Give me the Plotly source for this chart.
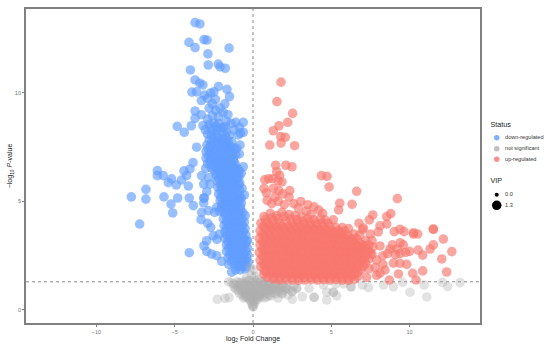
import plotly.graph_objects as go

# (log2 fold change, -log10 p-value)
down_regulated = [
(-3.7,13.24),(-3.39,13.18),(-4.09,12.33),(-3.7,12.09),(-3.13,12.46),(-2.94,12.44),(-1.53,12.07),(-2.88,11.8),(-2.86,11.29),(-2.22,11.33),
(-2.1,11.2),(-1.77,11.14),(-4.0,11.06),(-3.7,10.6),(-3.4,10.45),(-3.2,10.37),(-3.9,10.04),(-3.6,10.05),(-2.2,10.3),(-1.66,10.17),(-1.5,9.83),
(-2.7,10.0),(-2.5,10.05),(-3.1,9.9),(-2.9,9.75),(-3.3,9.65),(-2.4,9.7),(-2.6,9.5),(-1.8,9.5),(-2.1,9.3),(-2.8,9.3),(-2.4,9.2),
(-3.7,9.17),(-3.7,8.83),(-3.3,9.0),(-1.9,9.1),(-1.6,9.0),(-2.9,8.8),(-2.6,8.95),(-2.2,8.9),(-1.7,8.7),(-1.4,8.6),
(-4.84,8.46),(-4.39,8.19),(-3.94,8.49),(-3.2,8.5),(-3.05,8.3),(-2.8,8.55),(-2.5,8.6),(-2.2,8.6),(-1.9,8.4),(-1.1,8.65),(-0.62,8.65),(-0.62,8.19),(-0.87,8.41),(-1.2,8.3),(-0.94,8.07),(-0.8,8.15),
(-2.9,8.1),(-2.6,8.25),(-2.3,8.3),(-2.0,8.15),(-1.7,8.2),(-1.5,8.05),(-2.8,7.85),(-2.5,7.9),(-2.2,7.95),(-1.9,7.85),(-1.6,7.8),
(-3.6,7.5),(-2.95,7.6),(-2.7,7.55),(-2.4,7.6),(-2.1,7.6),(-1.8,7.55),(-1.5,7.55),(-0.83,7.6),(-1.05,7.45),
(-3.0,7.3),(-2.75,7.25),(-2.45,7.3),(-2.15,7.25),(-1.85,7.3),(-1.55,7.25),(-1.3,7.3),(-0.87,7.19),(-1.1,7.15),
(-3.0,7.0),(-2.7,6.95),(-2.4,7.0),(-2.1,6.95),(-1.8,7.0),(-1.5,6.95),(-1.25,7.0),
(-3.83,6.79),(-2.9,6.75),(-2.6,6.7),(-2.3,6.75),(-2.0,6.7),(-1.7,6.75),(-1.4,6.7),(-1.15,6.75),
(-6.11,6.42),(-4.41,6.41),(-4.03,6.5),(-3.02,6.53),(-2.5,6.45),(-2.2,6.45),(-1.9,6.45),(-1.6,6.45),(-1.3,6.45),(-1.0,6.5),(-0.62,6.6),(-0.75,6.3),
(-6.11,6.19),(-5.73,6.19),(-4.24,6.19),(-3.28,6.19),(-2.85,6.1),(-2.35,6.2),(-2.05,6.2),(-1.75,6.2),(-1.45,6.2),(-1.15,6.2),(-0.9,6.1),
(-5.2,6.04),(-4.56,5.99),(-5.41,5.87),(-4.9,5.76),(-4.13,5.71),(-3.15,5.8),(-2.75,5.8),(-2.3,5.95),(-2.0,5.9),(-1.7,5.95),(-1.4,5.9),(-1.1,5.95),(-0.85,5.85),
(-2.95,5.45),(-2.25,5.65),(-1.95,5.65),(-1.65,5.65),(-1.35,5.65),(-1.05,5.65),(-0.7,5.6),
(-6.84,5.56),(-7.77,5.21),(-6.84,5.11),(-5.69,5.21),(-4.81,5.16),(-5.24,4.88),(-5.13,4.47),(-4.07,5.16),(-3.81,4.81),(-3.13,5.16),(-3.13,5.16),(-3.15,4.94),
(-2.2,5.35),(-1.9,5.35),(-1.6,5.35),(-1.3,5.35),(-1.0,5.35),(-0.55,5.3),(-0.75,5.15),(-2.1,5.05),(-1.8,5.05),(-1.5,5.05),(-1.2,5.05),(-0.9,5.05),
(-2.32,4.73),(-2.0,4.8),(-1.7,4.8),(-1.4,4.8),(-1.1,4.8),(-0.8,4.75),(-2.45,4.5),(-2.15,4.55),(-1.85,4.5),(-1.55,4.5),(-1.25,4.5),(-0.95,4.5),(-0.65,4.5),
(-3.28,4.5),(-2.85,4.58),(-3.32,4.16),(-2.9,4.0),(-2.7,3.81),(-7.24,3.96),(-1.9,4.2),(-1.6,4.2),(-1.3,4.2),(-1.0,4.2),(-0.7,4.2),(-0.5,4.35),
(-1.85,3.9),(-1.55,3.9),(-1.25,3.9),(-0.95,3.9),(-0.65,3.9),(-1.8,3.6),(-1.5,3.6),(-1.2,3.6),(-0.9,3.6),(-0.6,3.6),
(-2.54,3.42),(-2.15,3.5),(-2.3,3.25),(-1.8,3.3),(-1.5,3.3),(-1.2,3.3),(-0.9,3.3),(-0.6,3.3),(-0.35,3.2),
(-3.13,2.96),(-2.96,3.19),(-2.96,2.7),(-2.64,2.58),(-2.32,2.5),(-4.07,2.64),(-1.7,3.0),(-1.4,3.0),(-1.1,3.0),(-0.8,3.0),(-0.5,3.0),
(-1.7,2.7),(-1.4,2.7),(-1.1,2.7),(-0.8,2.7),(-0.45,2.7),(-2.0,2.24),(-1.6,2.4),(-1.3,2.4),(-1.0,2.4),(-0.7,2.4),(-0.4,2.4),
(-1.55,2.1),(-1.2,2.1),(-0.9,2.1),(-0.55,2.1),(-0.3,2.2),(-1.36,1.74),(-1.1,1.85),(-0.8,1.85),(-0.5,1.9),
# dense column, second pass
(-2.75,8.4),(-2.35,8.45),(-2.05,8.4),(-1.75,8.45),(-2.65,8.05),(-2.35,8.1),(-2.05,7.8),(-1.75,8.0),(-2.65,7.7),(-2.25,7.75),(-1.95,7.7),(-1.65,7.65),(-1.35,7.75),
(-2.85,7.45),(-2.55,7.4),(-2.25,7.45),(-1.95,7.4),(-1.65,7.4),(-1.35,7.5),(-1.15,7.4),(-2.85,7.12),(-2.55,7.15),(-2.25,7.12),(-1.95,7.15),(-1.65,7.12),(-1.35,7.15),
(-2.75,6.85),(-2.45,6.85),(-2.15,6.85),(-1.85,6.85),(-1.55,6.85),(-1.25,6.85),(-2.65,6.55),(-2.35,6.58),(-2.05,6.58),(-1.75,6.6),(-1.45,6.58),(-1.15,6.6),(-0.9,6.45),
(-2.35,6.32),(-2.05,6.32),(-1.75,6.32),(-1.45,6.32),(-1.15,6.35),(-0.9,6.3),(-2.2,6.05),(-1.9,6.05),(-1.6,6.05),(-1.3,6.05),(-1.0,6.05),(-2.1,5.78),(-1.8,5.8),(-1.5,5.78),(-1.2,5.8),(-0.9,5.75),
(-2.05,5.5),(-1.75,5.5),(-1.45,5.5),(-1.15,5.5),(-0.85,5.5),(-2.05,5.2),(-1.75,5.2),(-1.45,5.2),(-1.15,5.2),(-0.85,5.2),(-1.95,4.92),(-1.65,4.92),(-1.35,4.92),(-1.05,4.92),(-0.75,4.92),
(-2.0,4.65),(-1.7,4.65),(-1.4,4.65),(-1.1,4.65),(-0.8,4.62),(-1.75,4.35),(-1.45,4.35),(-1.15,4.35),(-0.85,4.35),(-1.7,4.05),(-1.4,4.05),(-1.1,4.05),(-0.8,4.05),(-0.55,4.05),
(-1.7,3.75),(-1.4,3.75),(-1.1,3.75),(-0.8,3.75),(-0.5,3.75),(-1.65,3.45),(-1.35,3.45),(-1.05,3.45),(-0.75,3.45),(-0.45,3.45),(-1.6,3.15),(-1.3,3.15),(-1.0,3.15),(-0.7,3.15),(-0.4,3.15),
(-1.55,2.85),(-1.25,2.85),(-0.95,2.85),(-0.65,2.85),(-0.35,2.85),(-1.5,2.55),(-1.2,2.55),(-0.9,2.55),(-0.6,2.55),(-0.35,2.55),(-1.4,2.25),(-1.05,2.25),(-0.75,2.25),(-0.45,2.25),(-1.0,2.0),(-0.7,2.0),(-0.4,2.0),
]
not_significant = [
(-2.28,0.49),(-1.79,0.54),(-1.53,0.57),(10.03,0.82),(11.1,0.6),(12.1,1.27),(13.23,1.26),(12.44,1.08),(10.93,1.15),(9.56,1.27),(8.97,1.07),(8.33,1.15),
(7.37,1.03),(6.99,1.15),(6.26,1.07),(6.26,1.07),(5.35,0.65),(4.71,0.46),(3.9,0.58),(3.9,0.58),(3.15,0.61),(2.51,0.49),(4.71,0.82),(5.13,0.82),(5.13,0.82),(3.58,1.0),
(2.79,1.0),(2.79,1.0),(2.5,0.85),(2.5,0.85),(2.1,1.0),(2.1,1.0),(1.85,0.75),(1.85,0.75),(1.6,0.55),(4.5,1.15),(5.3,1.2),(5.8,1.2),
(0.0,0.15),(0.0,0.15),(-0.1,0.3),(0.1,0.3),(-0.2,0.45),(0.2,0.45),(-0.35,0.6),(0.0,0.5),(0.35,0.6),(-0.5,0.75),(-0.2,0.75),(0.15,0.75),(0.5,0.75),
(-0.7,0.9),(-0.4,0.95),(-0.1,0.95),(0.25,0.95),(0.6,0.95),(0.9,0.9),(-0.95,1.05),(-0.65,1.1),(-0.3,1.15),(0.05,1.15),(0.4,1.1),(0.75,1.1),(1.1,1.05),(1.4,0.95),
(-1.25,1.2),(-0.9,1.25),(-0.55,1.3),(-0.2,1.35),(0.15,1.35),(0.5,1.3),(0.85,1.25),(1.25,1.2),(1.6,1.15),(1.9,1.1),(1.3,0.8),(1.05,0.7),(0.75,0.55),
(-1.55,1.3),(-1.1,0.95),(-0.85,0.75),(-0.6,0.55),(-0.4,1.5),(-0.1,1.6),(0.15,1.55),(0.05,1.85),(-0.15,1.95),
# dense wedge, further passes
(0.0,0.2),(-0.05,0.35),(0.05,0.4),(-0.15,0.5),(0.15,0.55),(-0.3,0.55),(0.3,0.5),(-0.05,0.65),(0.1,0.62),(-0.25,0.65),(0.25,0.68),(-0.45,0.62),(0.45,0.62),
(-0.6,0.8),(-0.35,0.8),(-0.1,0.8),(0.1,0.85),(0.35,0.82),(0.65,0.8),(0.85,0.75),(-0.8,0.95),(-0.55,0.95),(-0.25,1.0),(0.0,1.0),(0.3,1.05),(0.5,1.0),(0.8,0.98),(1.0,0.9),(1.2,0.9),
(-1.05,1.15),(-0.8,1.15),(-0.45,1.2),(-0.15,1.2),(0.1,1.25),(0.35,1.25),(0.65,1.2),(0.95,1.15),(1.25,1.05),(1.5,1.05),(1.75,1.0),(-1.35,1.25),(-0.75,1.28),(-0.35,1.35),(0.3,1.4),(0.7,1.32),
(-1.2,1.05),(-0.95,0.9),(-0.7,0.7),(-0.5,0.6),(1.45,0.75),(1.15,0.65),(0.9,0.62),(0.6,0.6),(1.65,0.85),(1.95,0.9),(2.25,0.95),(2.25,0.7),
(-1.0,1.3),(-0.6,1.2),(-0.2,1.1),(0.2,1.15),(0.6,1.15),(1.0,1.25),(1.4,1.2),(1.8,1.2),(2.2,1.15),(2.6,1.1),(-0.4,0.7),(0.0,0.75),(0.4,0.72),(0.8,0.82),(1.2,1.0),(1.6,0.95),
]
up_regulated = [
(1.79,10.5),(1.53,9.6),(2.53,9.06),(2.22,8.65),(1.66,8.49),(1.3,8.26),(1.77,7.99),(2.06,7.96),(1.79,7.69),(1.07,7.6),(2.66,7.57),
(1.45,6.67),(2.1,6.67),(2.49,6.6),(1.51,6.37),(1.7,6.2),(1.0,6.05),(0.75,6.0),(1.25,6.05),(1.6,5.95),(1.85,5.9),(4.37,6.19),(4.73,6.16),(4.86,5.67),(6.62,5.47),(9.22,5.13),
(0.7,5.6),(0.85,5.4),(1.3,5.6),(1.65,5.5),(1.4,5.2),(1.9,5.35),(2.35,5.5),(2.3,5.2),(0.9,5.05),(1.2,4.9),(1.6,5.0),(2.0,4.85),(2.6,4.9),(3.05,5.0),(2.9,4.7),
(3.5,4.85),(3.9,4.75),(4.2,4.6),(5.54,4.92),(6.33,4.87),(5.47,4.61),(3.4,4.55),(3.7,4.4),(4.45,4.45),
(0.7,4.3),(1.1,4.45),(1.5,4.35),(1.85,4.5),(2.3,4.4),(2.7,4.35),(3.1,4.3),(3.5,4.2),(3.9,4.15),(4.3,4.2),(4.6,4.15),(5.13,4.15),
(7.65,4.38),(7.43,4.15),(8.8,4.44),(8.54,4.3),(8.54,3.96),(8.11,3.88),(6.77,4.0),(7.05,3.78),(11.52,3.72),
(0.5,4.0),(0.9,4.05),(1.3,4.1),(1.7,4.0),(2.1,4.1),(2.5,4.0),(2.9,4.0),(3.3,3.95),(3.7,3.9),(4.1,3.9),(4.5,3.85),(4.9,3.85),(5.3,3.8),(5.7,3.8),(6.1,3.75),
(0.45,3.65),(0.85,3.7),(1.25,3.7),(1.65,3.65),(2.05,3.7),(2.45,3.65),(2.85,3.65),(3.25,3.6),(3.65,3.6),(4.05,3.55),(4.45,3.55),(4.85,3.5),(5.25,3.5),(5.65,3.5),(6.05,3.45),(6.45,3.5),(6.8,3.45),
(0.4,3.3),(0.8,3.35),(1.2,3.35),(1.6,3.3),(2.0,3.35),(2.4,3.3),(2.8,3.3),(3.2,3.3),(3.6,3.25),(4.0,3.25),(4.4,3.2),(4.8,3.2),(5.2,3.2),(5.6,3.15),(6.0,3.15),(6.4,3.15),(6.8,3.1),(7.2,3.2),(7.6,3.2),
(0.45,3.0),(0.85,3.0),(1.25,3.0),(1.65,3.0),(2.05,2.95),(2.45,3.0),(2.85,2.95),(3.25,2.95),(3.65,2.95),(4.05,2.9),(4.45,2.9),(4.85,2.9),(5.25,2.85),(5.65,2.9),(6.05,2.85),(6.45,2.85),(6.85,2.85),(7.25,2.85),(7.65,2.9),
(0.4,2.65),(0.8,2.65),(1.2,2.65),(1.6,2.65),(2.0,2.65),(2.4,2.65),(2.8,2.6),(3.2,2.65),(3.6,2.6),(4.0,2.6),(4.4,2.6),(4.8,2.6),(5.2,2.55),(5.6,2.6),(6.0,2.55),(6.4,2.55),(6.8,2.55),(7.2,2.5),(7.6,2.55),
(0.45,2.3),(0.85,2.3),(1.25,2.35),(1.65,2.3),(2.05,2.3),(2.45,2.3),(2.85,2.3),(3.25,2.3),(3.65,2.25),(4.05,2.3),(4.45,2.25),(4.85,2.25),(5.25,2.25),(5.65,2.25),(6.05,2.2),(6.45,2.25),(6.85,2.2),(7.2,2.15),
(0.5,2.0),(0.9,2.0),(1.3,2.0),(1.7,2.0),(2.1,1.95),(2.5,2.0),(2.9,1.95),(3.3,1.95),(3.7,1.95),(4.1,1.95),(4.5,1.95),(4.9,1.9),(5.3,1.95),(5.7,1.9),(6.1,1.9),(6.5,1.9),(6.9,1.85),(7.4,1.9),(7.8,1.95),
(0.7,1.65),(1.1,1.65),(1.5,1.65),(1.9,1.65),(2.3,1.65),(2.7,1.65),(3.1,1.6),(3.5,1.65),(3.9,1.6),(4.3,1.6),(4.7,1.6),(5.1,1.6),(5.5,1.6),(5.9,1.6),(6.3,1.55),(6.7,1.55),
(1.3,1.42),(1.7,1.38),(2.1,1.4),(2.5,1.38),(2.9,1.36),(3.3,1.38),(3.7,1.4),(4.1,1.38),(4.5,1.4),(4.9,1.38),(5.3,1.4),(5.7,1.38),(6.1,1.36),(7.26,1.5),
(11.52,3.73),(12.16,3.27),(12.7,2.69),(12.06,2.35),(12.37,1.75),(11.31,2.81),(11.52,3.0),(10.84,1.8),(10.2,1.69),(10.42,1.38),(10.84,2.53),(10.55,2.76),(10.52,3.5),(10.25,3.56),(10.25,3.5),(9.65,3.61),(9.39,3.72),(9.03,3.61),
(9.82,2.1),(9.29,1.66),(9.39,2.15),(8.97,2.16),(8.71,1.38),(8.43,1.84),(8.11,1.7),(8.11,2.95),(8.75,2.8),(9.2,2.8),(9.6,3.0),(10.0,2.7),(9.4,2.6),(8.9,3.0),(8.3,2.5),(8.6,2.6),(7.9,2.3),(8.3,2.1),(7.9,1.6),(7.5,3.5),(8.0,3.6),(7.0,3.7),(9.4,3.1),(9.75,2.65),(9.1,2.55),
# dense block, second pass
(0.65,3.85),(1.05,3.9),(1.45,3.85),(1.85,3.85),(2.25,3.85),(2.65,3.85),(3.05,3.85),(3.45,3.75),(3.85,3.75),(4.25,3.7),(4.65,3.7),(5.05,3.65),(5.45,3.65),(5.85,3.65),
(0.6,3.5),(1.0,3.5),(1.4,3.5),(1.8,3.5),(2.2,3.5),(2.6,3.5),(3.0,3.5),(3.4,3.45),(3.8,3.45),(4.2,3.4),(4.6,3.4),(5.0,3.35),(5.4,3.35),(5.8,3.35),(6.2,3.3),(6.6,3.3),
(0.6,3.15),(1.0,3.15),(1.4,3.15),(1.8,3.15),(2.2,3.15),(2.6,3.15),(3.0,3.15),(3.4,3.1),(3.8,3.1),(4.2,3.05),(4.6,3.05),(5.0,3.05),(5.4,3.0),(5.8,3.0),(6.2,3.0),(6.6,3.0),(7.0,3.0),(7.4,3.0),
(0.6,2.82),(1.0,2.82),(1.4,2.82),(1.8,2.82),(2.2,2.8),(2.6,2.8),(3.0,2.8),(3.4,2.8),(3.8,2.78),(4.2,2.75),(4.6,2.75),(5.0,2.75),(5.4,2.72),(5.8,2.72),(6.2,2.7),(6.6,2.7),(7.0,2.7),(7.4,2.7),
(0.6,2.48),(1.0,2.5),(1.4,2.5),(1.8,2.48),(2.2,2.48),(2.6,2.48),(3.0,2.45),(3.4,2.45),(3.8,2.42),(4.2,2.45),(4.6,2.42),(5.0,2.42),(5.4,2.4),(5.8,2.42),(6.2,2.38),(6.6,2.38),(7.0,2.35),(7.4,2.35),
(0.65,2.15),(1.05,2.15),(1.45,2.18),(1.85,2.15),(2.25,2.15),(2.65,2.15),(3.05,2.12),(3.45,2.12),(3.85,2.1),(4.25,2.1),(4.65,2.1),(5.05,2.08),(5.45,2.1),(5.85,2.08),(6.25,2.05),(6.65,2.05),(7.05,2.02),
(0.7,1.82),(1.1,1.82),(1.5,1.82),(1.9,1.82),(2.3,1.82),(2.7,1.8),(3.1,1.78),(3.5,1.8),(3.9,1.78),(4.3,1.78),(4.7,1.75),(5.1,1.78),(5.5,1.75),(5.9,1.75),(6.3,1.72),(6.7,1.72),
(0.9,1.5),(1.3,1.52),(1.7,1.5),(2.1,1.52),(2.5,1.5),(2.9,1.48),(3.3,1.5),(3.7,1.5),(4.1,1.48),(4.5,1.5),(4.9,1.48),(5.3,1.5),(5.7,1.48),(6.1,1.46),(6.5,1.42),
(0.8,4.15),(1.2,4.25),(1.6,4.2),(2.0,4.3),(2.4,4.2),(2.8,4.15),(3.2,4.1),(3.6,4.05),(4.0,4.0),(4.4,4.0),(4.8,4.0),
# dense block, third pass
(0.75,3.78),(1.15,3.8),(1.55,3.78),(1.95,3.78),(2.35,3.75),(2.75,3.75),(3.15,3.72),(3.55,3.7),(3.95,3.68),(4.35,3.62),(4.75,3.6),(5.15,3.58),(5.55,3.58),
(0.72,3.42),(1.12,3.42),(1.52,3.42),(1.92,3.42),(2.32,3.42),(2.72,3.42),(3.12,3.4),(3.52,3.38),(3.92,3.35),(4.32,3.32),(4.72,3.3),(5.12,3.28),(5.52,3.25),(5.92,3.25),(6.32,3.22),
(0.72,3.08),(1.12,3.08),(1.52,3.08),(1.92,3.08),(2.32,3.08),(2.72,3.08),(3.12,3.05),(3.52,3.03),(3.92,3.02),(4.32,3.0),(4.72,2.98),(5.12,2.98),(5.52,2.95),(5.92,2.92),(6.32,2.92),(6.72,2.92),(7.12,2.92),
(0.72,2.75),(1.12,2.75),(1.52,2.75),(1.92,2.75),(2.32,2.72),(2.72,2.72),(3.12,2.72),(3.52,2.7),(3.92,2.7),(4.32,2.68),(4.72,2.68),(5.12,2.65),(5.52,2.65),(5.92,2.62),(6.32,2.62),(6.72,2.62),(7.12,2.62),(7.5,2.62),
(0.72,2.42),(1.12,2.42),(1.52,2.42),(1.92,2.4),(2.32,2.4),(2.72,2.4),(3.12,2.38),(3.52,2.38),(3.92,2.35),(4.32,2.35),(4.72,2.35),(5.12,2.32),(5.52,2.32),(5.92,2.32),(6.32,2.3),(6.72,2.3),(7.12,2.28),
(0.75,2.08),(1.15,2.08),(1.55,2.08),(1.95,2.08),(2.35,2.08),(2.75,2.05),(3.15,2.05),(3.55,2.03),(3.95,2.03),(4.35,2.02),(4.75,2.02),(5.15,2.0),(5.55,2.0),(5.95,2.0),(6.35,1.98),(6.75,1.98),
(0.85,1.75),(1.25,1.75),(1.65,1.75),(2.05,1.75),(2.45,1.72),(2.85,1.72),(3.25,1.7),(3.65,1.72),(4.05,1.7),(4.45,1.7),(4.85,1.68),(5.25,1.7),(5.65,1.68),(6.05,1.66),(6.45,1.65),
]
group_names = ["down-regulated", "not significant", "up-regulated"]
vip_labels = ["0.0", "1.3"]
x_ticks = [-10, -5, 0, 5, 10]
y_ticks = [0, 5, 10]
p_threshold = 1.3
fc_threshold = 0

colors = {"down-regulated": "#619CFF", "not significant": "#AFAFAF", "up-regulated": "#F8766D"}
opac = {"down-regulated": 0.65, "not significant": 0.36, "up-regulated": 0.65}
series = {"down-regulated": down_regulated, "not significant": not_significant, "up-regulated": up_regulated}

W, H = 550, 348
L, R, T, B = 26, 480, 9, 323   # plot-area edges in pixels

fig = go.Figure()
for g in group_names:
    pts = series[g]
    fig.add_trace(go.Scatter(x=[p[0] for p in pts], y=[p[1] for p in pts], mode="markers", showlegend=False,
                             marker=dict(color=colors[g], size=9.6, opacity=opac[g], line=dict(width=0))))

# legend drawn on its own small axes, whose scale is the page's pixels
key_x, label_x, title_x = 496.7, 505, 490.5
status_y = [137.7, 148.7, 159.3]
vip_y = [194.7, 205.3]
lg = dict(xaxis="x2", yaxis="y2", showlegend=False, hoverinfo="skip")
for g, yy in zip(group_names, status_y):
    fig.add_trace(go.Scatter(x=[key_x], y=[yy], mode="markers", marker=dict(color=colors[g], size=5.5, opacity=0.8, line=dict(width=0)), **lg))
    fig.add_trace(go.Scatter(x=[label_x], y=[yy], mode="text", text=[g], textposition="middle right", textfont=dict(size=5.6, color="#333"), **lg))
for v, s, yy in zip(vip_labels, [4, 9.5], vip_y):
    fig.add_trace(go.Scatter(x=[key_x], y=[yy], mode="markers", marker=dict(color="black", size=s, line=dict(width=0)), **lg))
    fig.add_trace(go.Scatter(x=[label_x], y=[yy], mode="text", text=[v], textposition="middle right", textfont=dict(size=5.6, color="#333"), **lg))
for t, yy in [("Status", 125.7), ("VIP", 181.7)]:
    fig.add_trace(go.Scatter(x=[title_x], y=[yy], mode="text", text=[t], textposition="middle right", textfont=dict(size=7.2, color="#222"), **lg))

fig.add_shape(type="line", xref="x domain", yref="y", x0=0, x1=1, y0=p_threshold, y1=p_threshold,
              line=dict(color="#8a8a8a", width=1, dash="3px,3px"), layer="below")
fig.add_shape(type="line", xref="x", yref="y domain", x0=fc_threshold, x1=fc_threshold, y0=0, y1=1,
              line=dict(color="#8a8a8a", width=1, dash="3px,3px"), layer="below")

axis = dict(showgrid=False, zeroline=False, showline=True, linecolor="#808080", linewidth=1.6, mirror=True, automargin=False,
            ticks="outside", ticklen=2, tickwidth=1, tickcolor="#808080", tickfont=dict(size=5.6, color="#777777"))
fig.update_layout(
    width=W, height=H, margin=dict(l=L, r=0, t=T, b=H - B), showlegend=False,
    paper_bgcolor="white", plot_bgcolor="white", font=dict(family="Liberation Sans"),
    xaxis=dict(range=[-14.5, 14.5], tickvals=x_ticks, domain=[0, (R - L) / (W - L)],
               title=dict(text="log<sub>2</sub> Fold Change", font=dict(size=7, color="#222"), standoff=1), **axis),
    yaxis=dict(range=[-0.6, 13.87], tickvals=y_ticks,
               title=dict(text="−log<sub>10</sub> <i>P</i>-value", font=dict(size=7, color="#222"), standoff=1), **axis),
    xaxis2=dict(domain=[(R - L) / (W - L) + 0.002, 1], range=[R + 1, W], visible=False, anchor="y2"),
    yaxis2=dict(domain=[0, 1], range=[B, T], visible=False, anchor="x2"),
)
fig.write_html("out.html", post_script="document.body.style.margin='0';", config=dict(displayModeBar=False))
